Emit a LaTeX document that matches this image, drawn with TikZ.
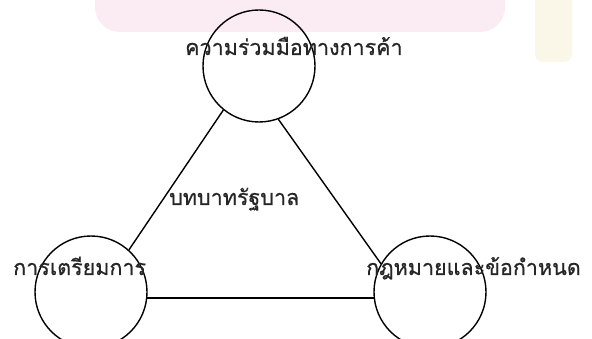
\documentclass[tikz,border=0pt]{standalone}
\usepackage{fontspec}
\newfontfamily\thaifont[Script=Thai,FakeBold=0.6]{Loma}
\definecolor{wmpale}{RGB}{250,236,242}
\definecolor{wmbeige}{RGB}{251,247,232}
\begin{document}
\begin{tikzpicture}[x=1pt,y=-1pt,
  ring/.style={circle,draw,line width=1.4pt,minimum size=112pt,inner sep=0pt},
  lab/.style={font=\thaifont\fontsize{21.5}{21.5}\selectfont,text=black!85,inner sep=0pt,anchor=base west},
  link/.style={line width=1.4pt}]
\useasboundingbox (0,0) rectangle (592,339);
\fill[white] (0,0) rectangle (592,339);
\begin{scope}
\clip (0,0) rectangle (592,339);
\fill[wmpale,rounded corners=25pt] (95,-40) rectangle (505,32);
\fill[wmbeige,rounded corners=8pt] (535,-10) rectangle (572,62);
\end{scope}
\node[ring] (T) at (259,66) {};
\node[ring] (L) at (91,292) {};
\node[ring] (R) at (430,292) {};
\draw[link] (T.231) -- (L.48);
\draw[link] (T.-70) -- (R.150);
\draw[link] (L.-6) -- (R.186);
\node[lab] (tT) at (185,55) {ความร่วมมือทางการค้า};
\node[lab] (tM) at (169,205) {บทบาทรัฐบาล};
\node[lab] (tL) at (13,275) {การเตรียมการ};
\node[lab] (tR) at (366,275) {กฎหมายและข้อกำหนด};
\end{tikzpicture}
\end{document}
